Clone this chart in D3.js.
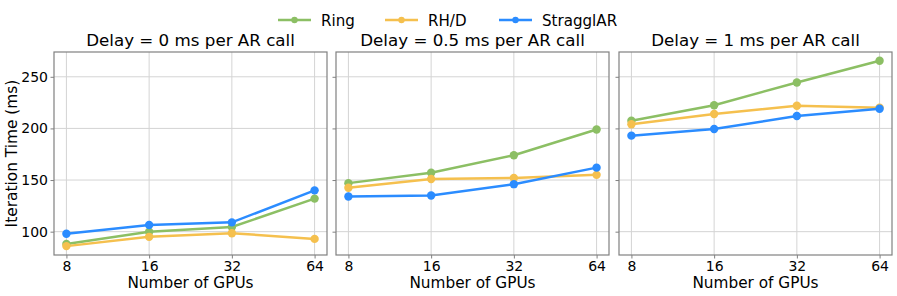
<!DOCTYPE html>
<html lang="en">
<meta charset="UTF-8">
<title>Iteration time vs GPUs</title>
<style>
body { margin: 0; background: #fff; font-family: "DejaVu Sans", sans-serif; }
</style>
<body>
<div id="chart"></div>
<script src="https://d3js.org/d3.v7.min.js"></script>
<script>
// data
var gpus = ["8", "16", "32", "64"];
var seriesNames = ["Ring", "RH/D", "StragglAR"];
var seriesColors = ["#8cbf64", "#f5c04e", "#2b8cff"];
var panelTitles = ["Delay = 0 ms per AR call", "Delay = 0.5 ms per AR call", "Delay = 1 ms per AR call"];
var yTicks = [100, 150, 200, 250];

var ring0 = [88, 100, 104.5, 132];
var rhd0 = [86, 95, 98.5, 93];
var strag0 = [98, 106.5, 109, 140];

var ring05 = [147, 157, 174, 199];
var rhd05 = [142.5, 151, 152, 155];
var strag05 = [134, 135, 146, 162];

var ring1 = [207.5, 222.5, 244.5, 265.5];
var rhd1 = [204, 214, 222, 220];
var strag1 = [193, 199.5, 212, 219];

var panels = [
  [ring0, rhd0, strag0],
  [ring05, rhd05, strag05],
  [ring1, rhd1, strag1]
];

var W = 897, H = 296;
var panelLeft = [54, 336, 619], panelW = 273;
var plotTop = 52, plotBottom = 255;

var svg = d3.select("#chart").append("svg")
  .attr("width", W)
  .attr("height", H);

var y = d3.scaleLinear().domain([77.4, 274]).range([plotBottom, plotTop]);

panels.forEach(function(series, p) {
  var x = d3.scalePoint().domain(gpus)
    .range([panelLeft[p], panelLeft[p] + panelW])
    .padding(0.15);
  var g = svg.append("g");

  // grid
  g.selectAll(".gx").data(gpus).enter().append("line")
    .attr("x1", function(d) { return x(d); }).attr("x2", function(d) { return x(d); })
    .attr("y1", plotTop).attr("y2", plotBottom)
    .attr("stroke", "#d4d4d4").attr("stroke-width", 1);
  g.selectAll(".gy").data(yTicks).enter().append("line")
    .attr("x1", panelLeft[p]).attr("x2", panelLeft[p] + panelW)
    .attr("y1", function(d) { return y(d); }).attr("y2", function(d) { return y(d); })
    .attr("stroke", "#d4d4d4").attr("stroke-width", 1);

  // axes
  var xa = g.append("g")
    .attr("transform", "translate(0," + plotBottom + ")")
    .call(d3.axisBottom(x).tickSize(3.5).tickPadding(2.5));
  var ya = g.append("g")
    .attr("transform", "translate(" + panelLeft[p] + ",0)")
    .call(d3.axisLeft(y).tickValues(yTicks).tickSize(3.5).tickPadding(2.5)
      .tickFormat(p == 0 ? d3.format("d") : function() { return ""; }));
  [xa, ya].forEach(function(a) {
    a.select(".domain").remove();
    a.selectAll("line").attr("stroke", "#808080");
    a.selectAll("text").attr("font-family", "DejaVu Sans").attr("font-size", 14).attr("fill", "#000");
  });

  // frame
  g.append("rect")
    .attr("x", panelLeft[p]).attr("y", plotTop)
    .attr("width", panelW).attr("height", plotBottom - plotTop)
    .attr("fill", "none").attr("stroke", "#808080").attr("stroke-width", 1.2);

  // lines
  var line = d3.line()
    .x(function(d, i) { return x(gpus[i]); })
    .y(function(d) { return y(d); });
  series.forEach(function(vals, s) {
    g.append("path").datum(vals)
      .attr("d", line)
      .attr("fill", "none")
      .attr("stroke", seriesColors[s])
      .attr("stroke-width", 2.5);
    g.selectAll(".m" + s).data(vals).enter().append("circle")
      .attr("cx", function(d, i) { return x(gpus[i]); })
      .attr("cy", function(d) { return y(d); })
      .attr("r", 4.2)
      .attr("fill", seriesColors[s]);
  });

  // titles
  g.append("text")
    .attr("x", panelLeft[p] + panelW / 2).attr("y", 46)
    .attr("text-anchor", "middle").attr("font-size", 16.7)
    .text(panelTitles[p]);
  g.append("text")
    .attr("x", panelLeft[p] + panelW / 2).attr("y", 287.5)
    .attr("text-anchor", "middle").attr("font-size", 15.3)
    .text("Number of GPUs");
});

svg.append("text")
  .attr("transform", "translate(17," + ((plotTop + plotBottom) / 2) + ") rotate(-90)")
  .attr("text-anchor", "middle").attr("font-size", 15.4)
  .text("Iteration Time (ms)");

// legend
var legX = [278, 385, 499];
seriesNames.forEach(function(name, i) {
  var lg = svg.append("g");
  lg.append("line")
    .attr("x1", legX[i]).attr("x2", legX[i] + 33)
    .attr("y1", 20).attr("y2", 20)
    .attr("stroke", seriesColors[i]).attr("stroke-width", 2.5);
  lg.append("circle")
    .attr("cx", legX[i] + 16.5).attr("cy", 20).attr("r", 3.2)
    .attr("fill", seriesColors[i]);
  lg.append("text")
    .attr("x", legX[i] + 43).attr("y", 26)
    .attr("font-size", 15.1)
    .text(name);
});
</script>
</body>
</html>
